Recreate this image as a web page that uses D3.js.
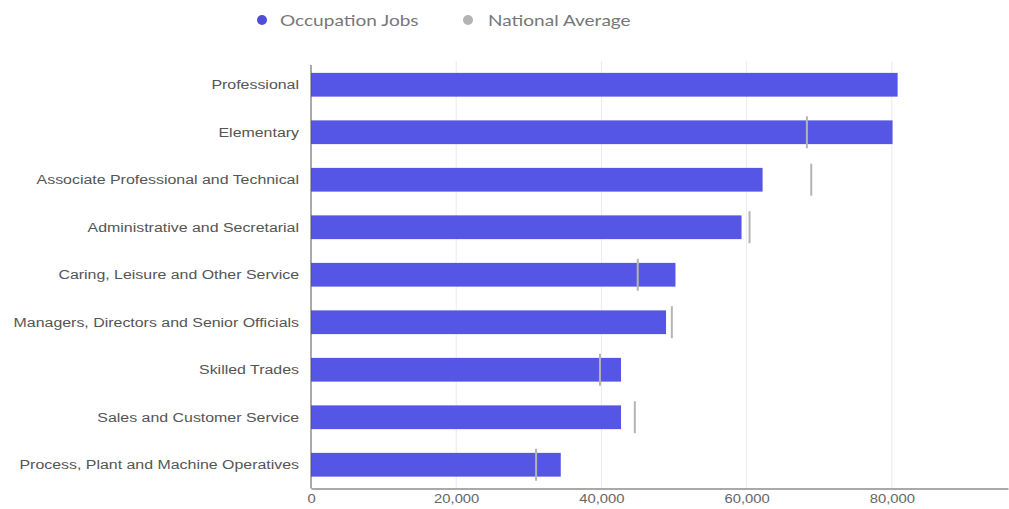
<!DOCTYPE html>
<html>
<head>
<meta charset="utf-8">
<script src="https://cdn.jsdelivr.net/npm/d3@7"></script>
<style>
  html, body { margin: 0; padding: 0; background: #fff; }
  svg { display: block; }
</style>
</head>
<body>
<svg id="chart" width="1009" height="509"></svg>
<script>
// Occupation groups, top to bottom
const categories = [
  "Professional",
  "Elementary",
  "Associate Professional and Technical",
  "Administrative and Secretarial",
  "Caring, Leisure and Other Service",
  "Managers, Directors and Senior Officials",
  "Skilled Trades",
  "Sales and Customer Service",
  "Process, Plant and Machine Operatives"
];
// Jobs in each occupation group
const occupationJobs = [80800, 80100, 62200, 59300, 50200, 48900, 42700, 42700, 34400];
// National average for comparison (none shown for Professional)
const nationalAverage = [null, 68300, 68900, 60400, 45000, 49700, 39800, 44600, 31000];
const tickValues = [0, 20000, 40000, 60000, 80000];
const seriesNames = ["Occupation Jobs", "National Average"];

const svg = d3.select("#chart");
const plotLeft = 311, plotRight = 1008, plotTop = 61, plotBottom = 488.5;
const stretch = 1.18;

const x = d3.scaleLinear().domain([0, 96000]).range([plotLeft, plotRight]);
const y = d3.scaleBand().domain(categories).range([plotTop, plotBottom])
  .paddingInner(0.5).paddingOuter(0.25);

// vertical gridlines
svg.append("g")
  .selectAll("line")
  .data(tickValues.slice(1))
  .join("line")
  .attr("x1", d => x(d)).attr("x2", d => x(d))
  .attr("y1", plotTop).attr("y2", plotBottom)
  .attr("stroke", "#ebebeb").attr("stroke-width", 1);

// bars
svg.append("g")
  .selectAll("rect")
  .data(categories)
  .join("rect")
  .attr("x", x(0))
  .attr("y", d => y(d))
  .attr("width", (d, i) => x(occupationJobs[i]) - x(0))
  .attr("height", y.bandwidth())
  .attr("fill", "#5656e6");

// national average markers
const markerH = 32;
svg.append("g")
  .selectAll("line")
  .data(categories.map((c, i) => ({ c, v: nationalAverage[i] })).filter(d => d.v != null))
  .join("line")
  .attr("x1", d => x(d.v)).attr("x2", d => x(d.v))
  .attr("y1", d => y(d.c) + y.bandwidth() / 2 - markerH / 2)
  .attr("y2", d => y(d.c) + y.bandwidth() / 2 + markerH / 2)
  .attr("stroke", "#b4b4b4").attr("stroke-width", 2);

// left baseline
svg.append("line")
  .attr("x1", x(0)).attr("x2", x(0))
  .attr("y1", plotTop + 4).attr("y2", plotBottom)
  .attr("stroke", "#555").attr("stroke-width", 1);

// bottom axis
const xAxis = d3.axisBottom(x)
  .tickValues(tickValues)
  .tickSize(0)
  .tickPadding(5)
  .tickFormat(d3.format(","));
const gx = svg.append("g").attr("transform", `translate(0,${plotBottom})`).call(xAxis);
gx.select(".domain").attr("stroke", "#555").attr("stroke-width", 1.2);
gx.selectAll("text")
  .attr("fill", "#666")
  .attr("transform", `scale(1.14,1)`)
  .style("font-family", "'Liberation Sans', Arial, sans-serif")
  .style("font-size", "13px");

// category labels
svg.append("g")
  .selectAll("text")
  .data(categories)
  .join("text")
  .attr("transform", d => `translate(299,${y(d) + y.bandwidth() / 2}) scale(${stretch},1)`)
  .attr("text-anchor", "end")
  .attr("dy", "0.35em")
  .attr("fill", "#555")
  .style("font-family", "'Liberation Sans', Arial, sans-serif")
  .style("font-size", "13.5px")
  .text(d => d);

// legend
const legendColors = ["#4e4ed6", "#b4b4b4"];
const legendX = [262, 468];
const lg = svg.append("g")
  .selectAll("g")
  .data(seriesNames)
  .join("g")
  .attr("transform", (d, i) => `translate(${legendX[i]},20)`);
lg.append("circle").attr("r", 5).attr("fill", (d, i) => legendColors[i]);
lg.append("text")
  .attr("transform", (d, i) => `translate(${i ? 20 : 18},0) scale(1.19,1)`)
  .attr("dy", "0.35em")
  .attr("fill", "#777")
  .style("font-family", "Lato, sans-serif")
  .style("font-size", "16px")
  .text(d => d);
</script>
</body>
</html>
